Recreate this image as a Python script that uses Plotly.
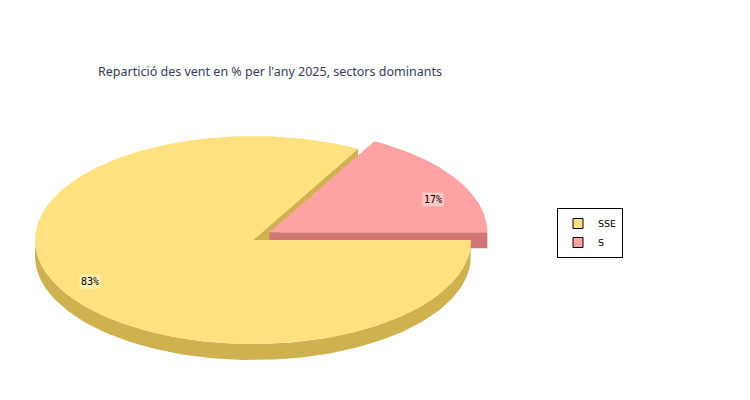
import numpy as np
import plotly.graph_objects as go

# data
sectors = ["SSE", "S"]
shares = [83, 17]
title_text = "Repartició des vent en % per l'any 2025, sectors dominants"

# style
top_colors = {"SSE": "#FFE180", "S": "#FFA2A2"}
side_colors = {"SSE": "#CFB24F", "S": "#D27575"}
label_bg = {"SSE": "#FFEFAE", "S": "#FFC6C6"}
explode = {"SSE": 0, "S": 1}

# the page body has an 8px margin; axes are set so units = screen pixels
off = 8
cx, cy = 253, 240
rx, ry = 218, 104
depth = 16
ex_x, ex_y = 19, 15


def pt(ox, oy, ang, dz=0):
    a = np.radians(ang)
    return ox + rx * np.cos(a), oy - ry * np.sin(a) + dz


# angles: the last slice starts at 0 and slices run counterclockwise
total = sum(shares)
slices = []
start = 0.0
for name, val in reversed(list(zip(sectors, shares))):
    span = val / total * 360
    a0, a1 = start, start + span
    mid = np.radians((a0 + a1) / 2)
    ox = cx + explode[name] * ex_x * np.cos(mid)
    oy = cy - explode[name] * ex_y * np.sin(mid)
    slices.append(dict(name=name, val=val, a0=a0, a1=a1, ox=ox, oy=oy))
    start = a1
slices = slices[::-1]  # SSE first

fig = go.Figure()


def add_poly(xs, ys, color):
    fig.add_trace(go.Scatter(x=xs, y=ys, fill="toself", fillcolor=color, mode="lines",
                             line=dict(width=0, color=color), hoverinfo="skip", showlegend=False))


# radial edge faces
for s in slices:
    for ang, visible in ((s["a0"], np.cos(np.radians(s["a0"])) > 0),
                         (s["a1"], np.cos(np.radians(s["a1"])) < 0)):
        if visible:
            px, py = pt(s["ox"], s["oy"], ang)
            xs = [s["ox"], px, px, s["ox"], s["ox"]]
            ys = [s["oy"], py, py + depth, s["oy"] + depth, s["oy"]]
            add_poly(xs, ys, side_colors[s["name"]])

# curved front sides
for s in slices:
    lo, hi = max(s["a0"], 180), min(s["a1"], 360)
    if hi > lo:
        angs = np.linspace(lo, hi, 120)
        tx, ty = pt(s["ox"], s["oy"], angs)
        bx, by = pt(s["ox"], s["oy"], angs[::-1], depth)
        add_poly(np.concatenate([tx, bx]), np.concatenate([ty, by]), side_colors[s["name"]])

# tops
for s in slices:
    angs = np.linspace(s["a0"], s["a1"], 200)
    ax_, ay_ = pt(s["ox"], s["oy"], angs)
    xs = np.concatenate([[s["ox"]], ax_, [s["ox"]]])
    ys = np.concatenate([[s["oy"]], ay_, [s["oy"]]])
    add_poly(xs, ys, top_colors[s["name"]])

# percent labels
for s in slices:
    mid = np.radians((s["a0"] + s["a1"]) / 2)
    lx = s["ox"] + 0.87 * rx * np.cos(mid)
    ly = s["oy"] - 0.7 * ry * np.sin(mid)
    fig.add_annotation(x=lx, y=ly, yshift=-4, text=f"{s['val'] / total * 100:.0f}%", showarrow=False,
                       font=dict(family="DejaVu Sans Mono", size=10, color="black"),
                       bgcolor=label_bg[s["name"]], borderpad=1)

# legend entries
for name in sectors:
    fig.add_trace(go.Scatter(x=[None], y=[None], mode="markers", name=name,
                             marker=dict(symbol="square", size=10, color=top_colors[name],
                                         line=dict(color="black", width=1))))

fig.update_layout(
    width=750, height=400, autosize=False,
    margin=dict(l=0, r=0, t=0, b=0),
    paper_bgcolor="white", plot_bgcolor="white",
    xaxis=dict(range=[off, 750 + off], visible=False, fixedrange=True),
    yaxis=dict(range=[400 + off, off], visible=False, fixedrange=True),
    title=dict(text=title_text, x=(98 - off) / 750, xanchor="left",
               y=1 - (72 - off) / 400, yanchor="middle",
               font=dict(family="Noto Sans", size=12.5, color="#343C58")),
    legend=dict(x=(557 - off) / 750, y=1 - (208 - off) / 400, xanchor="left", yanchor="top",
                bgcolor="white", bordercolor="black", borderwidth=1,
                font=dict(family="DejaVu Sans", size=9.5, color="black"),
                itemwidth=30, tracegroupgap=0),
)

fig.write_html("out.html")
